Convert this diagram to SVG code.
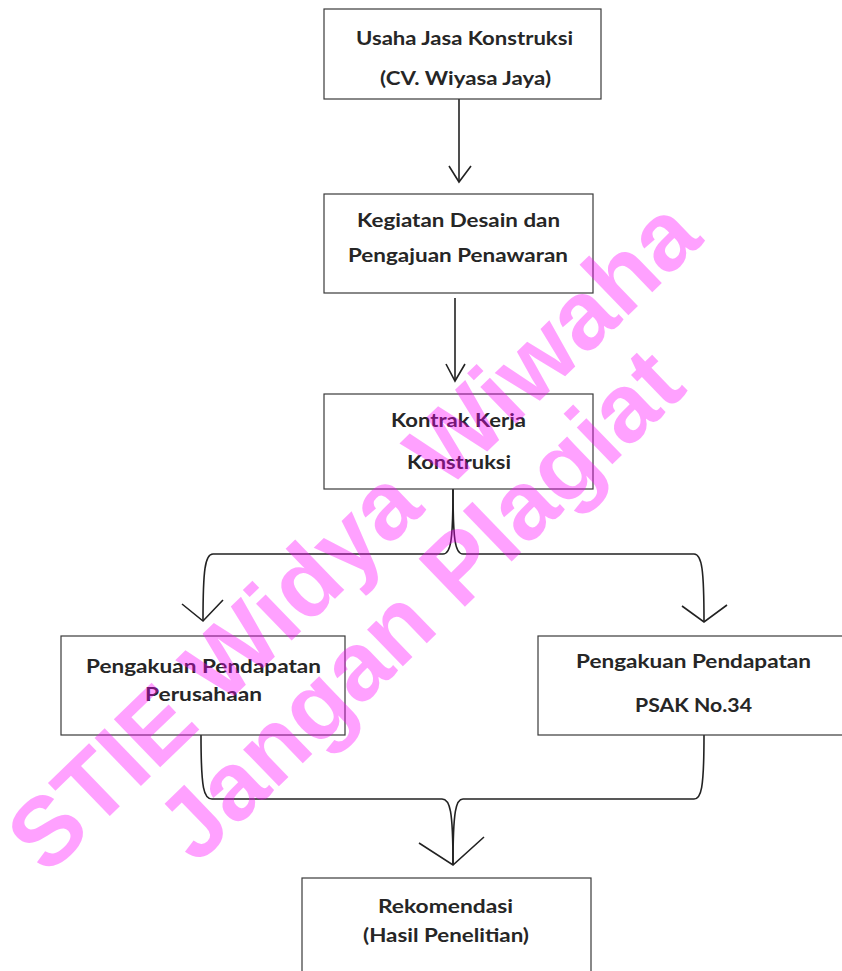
<svg xmlns="http://www.w3.org/2000/svg" width="842" height="971" viewBox="0 0 842 971">
<style>
.box{fill:#fff;stroke:#3a3a3a;stroke-width:1.2}
.t{font-family:Lato,"Open Sans","Liberation Sans",sans-serif;font-weight:700;font-size:19.5px;fill:#262626;text-anchor:middle}
.c{fill:none;stroke:#222;stroke-width:1.6;stroke-linejoin:miter}
.wm{font-family:"Liberation Sans",Arial,sans-serif;font-weight:700;font-size:97px;fill:#ff00ff;fill-opacity:0.37;text-anchor:middle}
</style>
<rect width="842" height="971" fill="#fff"/>
<g id="connectors">
<path class="c" d="M459 99 V182"/>
<path class="c" d="M449 166 L459 182 L471 166"/>
<path class="c" d="M455 298 V381"/>
<path class="c" d="M446 364 L455 381 L465 364"/>
<path class="c" d="M453 488 C453 540 451 554 443 554 L213 554 C205 554 203 570 203 621"/>
<path class="c" d="M453 488 C453 540 455 554 463 554 L694 554 C702 554 704 570 704 622"/>
<path class="c" d="M182 604 L203 621 L223 600"/>
<path class="c" d="M682 606 L704 622 L727 605"/>
<path class="c" d="M201 735 C201 790 204 799 212 799 L442 799 C450 799 453 810 453 865"/>
<path class="c" d="M704 735 C704 790 701 799 694 799 L463 799 C456 799 453 810 453 865"/>
<path class="c" d="M419 843 L453 865 L484 837"/>
</g>
<g id="n1">
<rect class="box" x="324" y="9" width="277" height="90"/>
<text class="t" x="464.5" y="45" textLength="217" lengthAdjust="spacingAndGlyphs">Usaha Jasa Konstruksi</text>
<text class="t" x="465.5" y="85" textLength="171" lengthAdjust="spacingAndGlyphs">(CV. Wiyasa Jaya)</text>
</g>
<g id="n2">
<rect class="box" x="324" y="194" width="269" height="99"/>
<text class="t" x="458.5" y="227" textLength="203" lengthAdjust="spacingAndGlyphs">Kegiatan Desain dan</text>
<text class="t" x="458" y="262" textLength="220" lengthAdjust="spacingAndGlyphs">Pengajuan Penawaran</text>
</g>
<g id="n3">
<rect class="box" x="324" y="394" width="269" height="95"/>
<text class="t" x="458.5" y="427" textLength="135" lengthAdjust="spacingAndGlyphs">Kontrak Kerja</text>
<text class="t" x="459" y="469" textLength="104" lengthAdjust="spacingAndGlyphs">Konstruksi</text>
</g>
<g id="n4">
<rect class="box" x="61" y="636" width="284" height="99"/>
<text class="t" x="203.5" y="673" textLength="235" lengthAdjust="spacingAndGlyphs">Pengakuan Pendapatan</text>
<text class="t" x="203.5" y="701" textLength="117" lengthAdjust="spacingAndGlyphs">Perusahaan</text>
</g>
<g id="n5">
<rect class="box" x="538" y="636" width="320" height="99"/>
<text class="t" x="693.5" y="668" textLength="235" lengthAdjust="spacingAndGlyphs">Pengakuan Pendapatan</text>
<text class="t" x="693.5" y="712" textLength="117" lengthAdjust="spacingAndGlyphs">PSAK No.34</text>
</g>
<g id="n6">
<rect class="box" x="302" y="878" width="289" height="110"/>
<text class="t" x="445.5" y="913" textLength="135" lengthAdjust="spacingAndGlyphs">Rekomendasi</text>
<text class="t" x="446" y="942" textLength="166" lengthAdjust="spacingAndGlyphs">(Hasil Penelitian)</text>
</g>
<g id="watermark" transform="translate(376 559) rotate(-44)">
<text class="wm" x="0" y="0">STIE Widya Wiwaha</text>
<text class="wm" x="0" y="96">Jangan Plagiat</text>
</g>
</svg>
